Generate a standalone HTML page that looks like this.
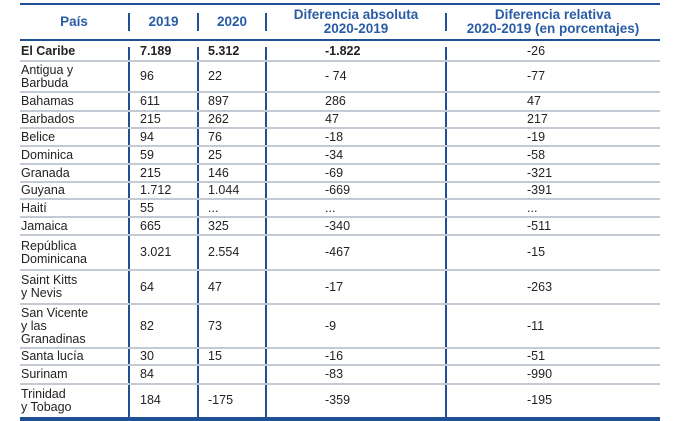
<!DOCTYPE html>
<html><head><meta charset="utf-8"><style>
body{margin:0;width:678px;height:421px;background:#fff;position:relative;overflow:hidden;font-family:"Liberation Sans",Arial,sans-serif;font-size:12.5px;color:#222}
.h{position:absolute;left:20px;width:640px;background:#c3cad4;height:2px}
.v{position:absolute;width:2px;background:#1f4f95}
.t{position:absolute;white-space:nowrap;line-height:13px}
.hd{position:absolute;color:#2a5ca6;font-weight:bold;font-size:13.5px;text-align:center;line-height:14px}
</style></head><body>
<div class="h" style="top:3px;background:#1f4f95;height:2px"></div>
<div class="h" style="top:39px;background:#1f4f95;height:2px"></div>
<div class="h" style="top:417px;background:#1f4f95;height:4px"></div>
<div class="hd" style="left:20px;width:108px;top:15px">País</div>
<div class="hd" style="left:130px;width:67px;top:15px">2019</div>
<div class="hd" style="left:199px;width:66px;top:15px">2020</div>
<div class="hd" style="left:267px;width:178px;top:8px">Diferencia absoluta<br>2020-2019</div>
<div class="hd" style="left:447px;width:212px;top:8px">Diferencia relativa<br>2020-2019 (en porcentajes)</div>
<div class="v" style="left:128px;top:13px;height:18px"></div>
<div class="v" style="left:197px;top:13px;height:18px"></div>
<div class="v" style="left:265px;top:13px;height:18px"></div>
<div class="v" style="left:445px;top:13px;height:18px"></div>
<div class="v" style="left:128px;top:47px;height:370px"></div>
<div class="v" style="left:197px;top:47px;height:370px"></div>
<div class="v" style="left:265px;top:47px;height:370px"></div>
<div class="v" style="left:445px;top:47px;height:370px"></div>
<div id="rows"></div>
<script>
var R=[["El Caribe","7.189","5.312","-1.822","-26",41,61,1],
["Antigua y<br>Barbuda","96","22","- 74","-77",61,92],
["Bahamas","611","897","286","47",92,111],
["Barbados","215","262","47","217",111,128],
["Belice","94","76","-18","-19",128,146],
["Dominica","59","25","-34","-58",146,164],
["Granada","215","146","-69","-321",164,182],
["Guyana","1.712","1.044","-669","-391",182,199],
["Haití","55","...","...","...",199,217],
["Jamaica","665","325","-340","-511",217,235],
["República<br>Dominicana","3.021","2.554","-467","-15",235,270],
["Saint Kitts<br>y Nevis","64","47","-17","-263",270,304],
["San Vicente<br>y las<br>Granadinas","82","73","-9","-11",304,348],
["Santa lucía","30","15","-16","-51",348,365],
["Surinam","84","","-83","-990",365,384],
["Trinidad<br>y Tobago","184","-175","-359","-195",384,417]];
var h="";
R.forEach(function(r,i){
var a=r[5],b=r[6],m=(a+b)/2;
var lines=r[0].split("<br>").length;
var fw=r[7]?"font-weight:bold;":"";
h+='<div class="t" style="'+fw+'left:21px;top:'+(m-lines*6.5)+'px">'+r[0]+'</div>';
var xs=[140,208,325,527];
for(var k=0;k<4;k++){var f=(k<3)?fw:"";h+='<div class="t" style="'+f+'left:'+xs[k]+'px;top:'+(m-6.5)+'px">'+r[k+1]+'</div>';}
if(i<R.length-1)h+='<div class="h" style="top:'+(b-1)+'px"></div>';
});
document.getElementById("rows").innerHTML=h;
</script>
</body></html>
